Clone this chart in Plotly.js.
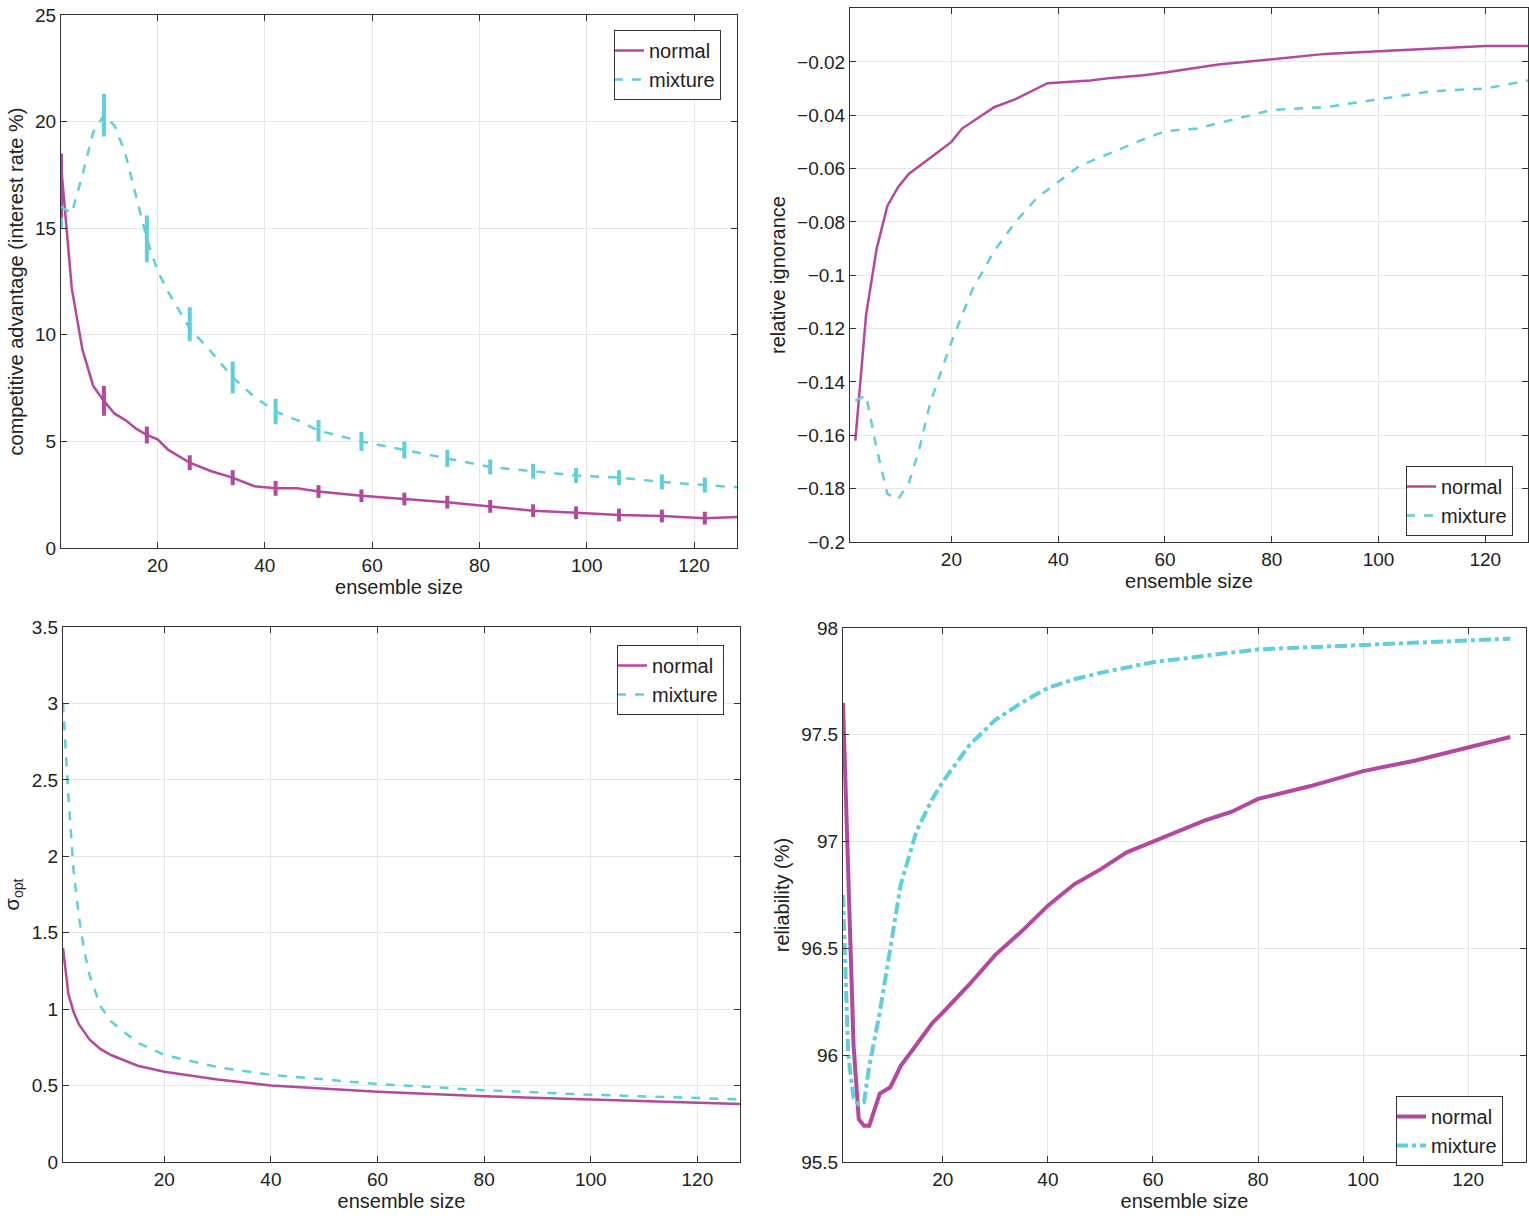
<!DOCTYPE html>
<html>
<head>
<meta charset="utf-8">
<script src="https://cdn.plot.ly/plotly-3.0.1.min.js"></script>
<style>html,body{margin:0;padding:0;background:#fff}#plot{width:1529px;height:1220px}</style>
</head>
<body>
<div id="plot"></div>
<script>
// panel A: competitive advantage
const advX = [2,4,6,8,10,12,14,16,18,20,22,26,30,34,38,42,46,50,58,66,74,82,90,98,106,114,122,128];
const advNormal = [18,12.2,9.3,7.6,6.9,6.3,6.0,5.6,5.3,5.1,4.6,4.0,3.6,3.3,2.9,2.8,2.8,2.65,2.45,2.3,2.15,1.95,1.75,1.65,1.55,1.5,1.4,1.45];
const advMixture = [16,15.7,17.5,19.5,20.3,19.8,18.5,16.5,14.5,13,12,10.3,9.2,8,7.1,6.4,6,5.5,5,4.6,4.2,3.8,3.6,3.4,3.3,3.1,2.95,2.85];
const errX = [2,10,18,26,34,42,50,58,66,74,82,90,98,106,114,122];
const errNormalY = [17,6.9,5.3,4.0,3.3,2.8,2.65,2.45,2.3,2.15,1.95,1.75,1.65,1.55,1.5,1.4];
const errNormal = [1.5,0.7,0.4,0.35,0.35,0.35,0.3,0.3,0.3,0.3,0.3,0.3,0.3,0.3,0.3,0.3];
const errMixtureY = [16,20.3,14.5,10.5,8,6.4,5.5,5,4.6,4.2,3.8,3.6,3.4,3.3,3.1,2.95];
const errMixture = [1,1.0,1.1,0.8,0.75,0.6,0.5,0.45,0.4,0.4,0.35,0.35,0.35,0.35,0.35,0.35];

// panel B: relative ignorance
const ignNormalX = [2,4,6,8,10,12,16,20,22,28,32,38,46,50,56,60,70,80,90,100,110,120,128];
const ignNormal = [-0.162,-0.115,-0.09,-0.074,-0.067,-0.062,-0.056,-0.05,-0.045,-0.037,-0.034,-0.028,-0.027,-0.026,-0.025,-0.024,-0.021,-0.019,-0.017,-0.016,-0.015,-0.014,-0.014];
const ignMixtureX = [2,4,6,8,10,12,14,16,20,24,28,32,36,40,44,50,56,60,66,70,76,80,90,100,110,120,128];
const ignMixture = [-0.147,-0.145,-0.165,-0.182,-0.184,-0.178,-0.165,-0.148,-0.125,-0.105,-0.091,-0.08,-0.071,-0.065,-0.059,-0.054,-0.049,-0.046,-0.045,-0.043,-0.04,-0.038,-0.037,-0.034,-0.031,-0.03,-0.027];

// panel C: sigma opt
const sigNormalX = [1,2,3,4,6,8,10,15,20,30,40,60,80,100,128];
const sigNormal = [1.4,1.1,0.98,0.9,0.8,0.74,0.7,0.63,0.59,0.54,0.5,0.46,0.43,0.41,0.38];
const sigMixtureX = [1,2,3,4,5,6,8,10,15,20,30,40,60,80,100,128];
const sigMixture = [3.0,2.4,1.9,1.6,1.38,1.22,1.02,0.92,0.78,0.7,0.62,0.57,0.51,0.47,0.44,0.41];

// panel D: reliability
const relNormalX = [1,2,3,4,5,6,7,8,10,12,15,18,20,25,30,35,40,45,50,55,60,65,70,75,80,90,100,110,120,128];
const relNormal = [97.65,96.8,96.05,95.7,95.67,95.67,95.75,95.82,95.85,95.95,96.05,96.15,96.2,96.33,96.47,96.58,96.7,96.8,96.87,96.95,97.0,97.05,97.1,97.14,97.2,97.26,97.33,97.38,97.44,97.49];
const relMixtureX = [1,2,3,4,5,6,8,10,12,15,18,20,25,30,35,40,45,50,60,70,80,90,100,110,120,128];
const relMixture = [96.75,96.0,95.8,95.77,95.78,95.95,96.2,96.5,96.8,97.05,97.2,97.28,97.45,97.57,97.65,97.72,97.76,97.79,97.84,97.87,97.9,97.91,97.92,97.93,97.94,97.95];

const MAG = "#b5479e";
const CYA = "#5ecfdc";
const W = 1529, H = 1220;
const gx = (a, b) => [a / W, b / W];
const gy = (top, bot) => [1 - bot / H, 1 - top / H];

const line = (x, y, color, dash, width, xa, ya, name, leg) => ({
  type: "scatter", mode: "lines", x, y, xaxis: xa, yaxis: ya, name,
  legend: leg, line: { color, dash, width },
});
const errTrace = (x, y, e, color, xa, ya) => ({
  type: "scatter", mode: "markers", x, y, xaxis: xa, yaxis: ya, showlegend: false,
  marker: { size: 1, color },
  error_y: { type: "data", array: e, color, thickness: 4, width: 0 },
});

const traces = [
  errTrace(errX, errMixtureY, errMixture, CYA, "x", "y"),
  errTrace(errX, errNormalY, errNormal, MAG, "x", "y"),
  line(advX, advNormal, MAG, "solid", 2.5, "x", "y", "normal", "legend"),
  line(advX, advMixture, CYA, "dash", 2.5, "x", "y", "mixture", "legend"),
  line(ignNormalX, ignNormal, MAG, "solid", 2.5, "x2", "y2", "normal", "legend2"),
  line(ignMixtureX, ignMixture, CYA, "dash", 2.5, "x2", "y2", "mixture", "legend2"),
  line(sigNormalX, sigNormal, MAG, "solid", 2.5, "x3", "y3", "normal", "legend3"),
  line(sigMixtureX, sigMixture, CYA, "dash", 2.5, "x3", "y3", "mixture", "legend3"),
  line(relNormalX, relNormal, MAG, "solid", 4, "x4", "y4", "normal", "legend4"),
  line(relMixtureX, relMixture, CYA, "dashdot", 4, "x4", "y4", "mixture", "legend4"),
];

const axBase = {
  showline: true, mirror: "ticks", linecolor: "#333", linewidth: 1,
  ticks: "inside", ticklen: 6, tickcolor: "#333",
  showgrid: true, gridcolor: "#e6e6e6", zeroline: false,
  tickfont: { size: 19 },
};
const xAx = (dom, range, anchor) => ({
  ...axBase, domain: dom, range, anchor, tickvals: [20, 40, 60, 80, 100, 120],
  title: { text: "ensemble size", standoff: 4, font: { size: 20 } },
});
const yAx = (dom, range, anchor, dtick, title) => ({
  ...axBase, domain: dom, range, anchor, dtick,
  title: { text: title, standoff: 6, font: { size: 20 } },
});
const legBox = (x, y) => ({
  x, y, xanchor: "right", yanchor: "top", bgcolor: "#fff",
  bordercolor: "#333", borderwidth: 1, font: { size: 20 }, tracegroupgap: 0,
  itemwidth: 30, indentation: -6,
});

const layout = {
  width: W, height: H, margin: { l: 0, r: 0, t: 0, b: 0 },
  paper_bgcolor: "#fff", plot_bgcolor: "#fff",
  font: { family: '"Liberation Sans", Arial, sans-serif', size: 19, color: "#222" },
  xaxis: xAx(gx(61, 737), [2, 128], "y"),
  yaxis: yAx(gy(15, 548), [0, 25], "x", 5, "competitive advantage (interest rate %)"),
  xaxis2: xAx(gx(850, 1528), [1, 128], "y2"),
  yaxis2: { ...yAx(gy(8, 542), [-0.2, 0.0002], "x2", 0.02, "relative ignorance"), tickformat: "~g" },
  xaxis3: xAx(gx(63, 740), [1, 128], "y3"),
  yaxis3: yAx(gy(627, 1162), [0, 3.5], "x3", 0.5, "σ<sub>opt</sub>"),
  xaxis4: xAx(gx(843, 1526), [1, 131], "y4"),
  yaxis4: yAx(gy(628, 1162), [95.5, 98], "x4", 0.5, "reliability (%)"),
  legend: legBox(721 / W, 1 - 30 / H),
  legend2: legBox(1513 / W, 1 - 466 / H),
  legend3: legBox(724 / W, 1 - 645 / H),
  legend4: legBox(1503 / W, 1 - 1096 / H),
  showlegend: true,
};

Plotly.newPlot("plot", traces, layout, { staticPlot: true });
</script>
</body>
</html>
